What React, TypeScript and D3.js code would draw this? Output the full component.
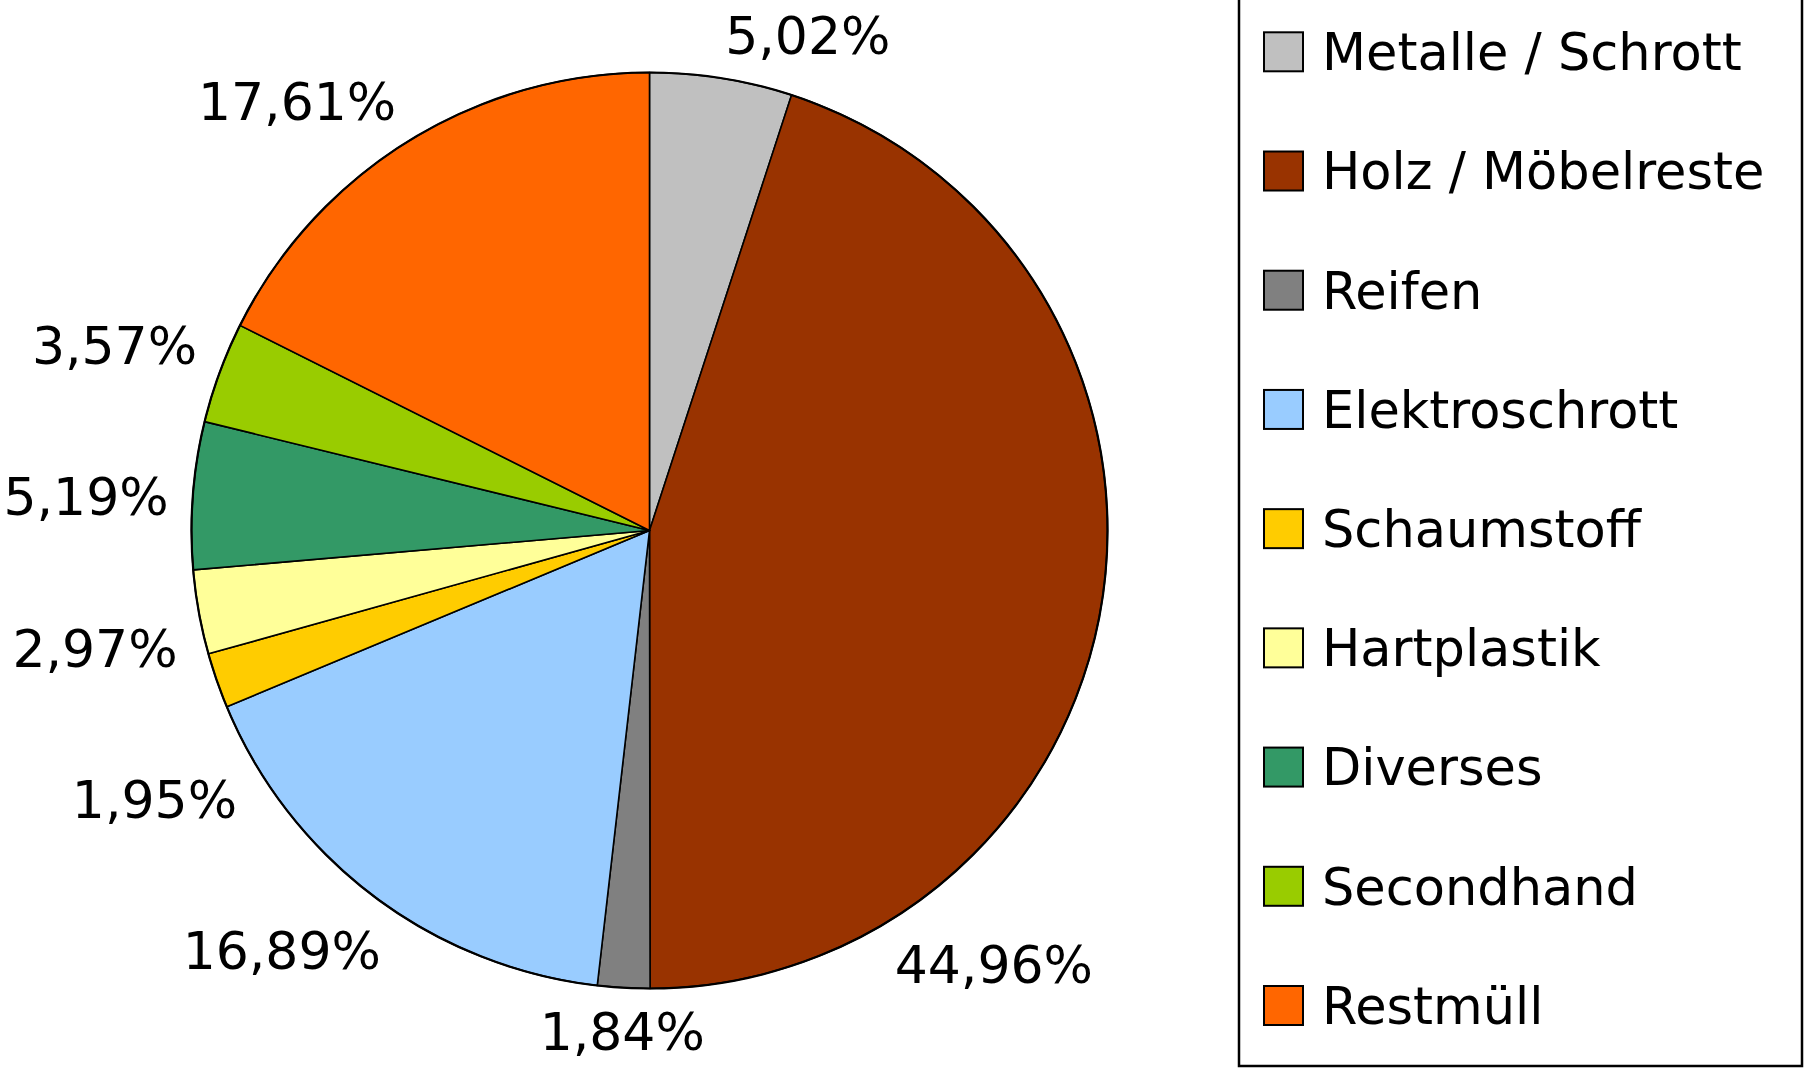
import * as d3 from "d3";
import { useEffect, useRef } from "react";

const categories = [
  "Metalle / Schrott",
  "Holz / Möbelreste",
  "Reifen",
  "Elektroschrott",
  "Schaumstoff",
  "Hartplastik",
  "Diverses",
  "Secondhand",
  "Restmüll",
];
const shares = [5.02, 44.96, 1.84, 16.89, 1.95, 2.97, 5.19, 3.57, 17.61];
const sliceColors = [
  "#C0C0C0",
  "#993300",
  "#808080",
  "#99CCFF",
  "#FFCC00",
  "#FFFF99",
  "#339966",
  "#99CC00",
  "#FF6600",
];

const W = 1806;
const H = 1086;
const FONT = "'Comic Sans MS', 'DejaVu Sans', sans-serif";

const App = () => {
  const ref = useRef(null);

  useEffect(() => {
    document.body.style.margin = "0";
    document.body.style.overflow = "hidden";

    const cx = 649.5;
    const cy = 530.5;
    const radius = 458;
    const labelR = radius + 24;
    const labelSize = 52;
    const capH = labelSize * 0.73;
    const labelGap = labelSize * 2.9; // min baseline distance of stacked labels

    const legendX = 1239;
    const legendRight = 1802;
    const legendBottom = 1066;
    const labelLimitX = legendX - 145;

    const svg = d3.select(ref.current);
    svg.selectAll("*").remove();

    const pie = d3
      .pie()
      .sort(null)
      .value((d) => d)
      .startAngle(0)
      .endAngle(2 * Math.PI);
    const arcs = pie(shares);

    const arc = d3.arc().innerRadius(0).outerRadius(radius);

    const g = svg.append("g").attr("transform", `translate(${cx},${cy})`);

    g.selectAll("path")
      .data(arcs)
      .join("path")
      .attr("d", arc)
      .attr("fill", (d, i) => sliceColors[i])
      .attr("stroke", "#000")
      .attr("stroke-width", 1.6)
      .attr("stroke-linejoin", "round");

    // outer rim a little heavier
    g.append("circle")
      .attr("r", radius)
      .attr("fill", "none")
      .attr("stroke", "#000")
      .attr("stroke-width", 2.2);

    // percentage labels, placed outside the slice
    const fmt = (v) => v.toFixed(2).replace(".", ",") + "%";

    const labels = svg
      .append("g")
      .selectAll("text")
      .data(arcs)
      .join("text")
      .attr("font-family", FONT)
      .attr("font-size", labelSize)
      .attr("fill", "#000")
      .text((d) => fmt(d.data));

    const place = (theta, w) => {
      const s = Math.sin(theta);
      const c = Math.cos(theta);
      const px = cx + labelR * s;
      const py = cy - labelR * c;
      const ax = s > 0.1 ? 0 : s < -0.1 ? 1 : 0.5;
      const ay = c > 0.1 ? 1 : c < -0.1 ? 0 : 0.5;
      return { x: px - ax * w, y: py - ay * capH };
    };

    const boxes = [];
    labels.each(function (d) {
      const w = this.getComputedTextLength();
      let theta = (d.startAngle + d.endAngle) / 2;
      let p = place(theta, w);
      // slide along the slice when the label would run into the legend
      while (p.x + w > labelLimitX && theta < d.endAngle) {
        theta += 0.005;
        p = place(theta, w);
      }
      boxes.push({ node: this, w, theta, ...p });
    });

    // left side: stack labels top to bottom, pushing crowded ones down the rim
    const left = boxes
      .filter((b) => Math.sin(b.theta) < -0.1)
      .sort((a, b) => a.y - b.y);
    for (let i = 1; i < left.length; i++) {
      const prev = left[i - 1];
      const b = left[i];
      while (b.y < prev.y + labelGap && b.theta > Math.PI) {
        b.theta -= 0.002;
        Object.assign(b, place(b.theta, b.w));
      }
    }

    boxes.forEach((b) => {
      d3.select(b.node)
        .attr("x", b.x)
        .attr("y", b.y + capH);
    });

    // legend
    const legend = svg.append("g");
    legend
      .append("rect")
      .attr("x", legendX)
      .attr("y", -4)
      .attr("width", legendRight - legendX)
      .attr("height", legendBottom + 4)
      .attr("fill", "#fff")
      .attr("stroke", "#000")
      .attr("stroke-width", 2.5);

    const rowY = d3
      .scalePoint()
      .domain(categories)
      .range([51.8, 1005.5]);

    const legendSize = 51;
    const sw = 39;

    const rows = legend
      .selectAll("g.row")
      .data(categories)
      .join("g")
      .attr("class", "row")
      .attr("transform", (d) => `translate(0,${rowY(d)})`);

    rows
      .append("rect")
      .attr("x", 1264)
      .attr("y", -sw / 2)
      .attr("width", sw)
      .attr("height", sw)
      .attr("fill", (d, i) => sliceColors[i])
      .attr("stroke", "#000")
      .attr("stroke-width", 2);

    rows
      .append("text")
      .attr("x", 1322)
      .attr("y", legendSize * 0.36)
      .attr("font-family", FONT)
      .attr("font-size", legendSize)
      .attr("fill", "#000")
      .text((d) => d);
  }, []);

  return (
    <svg
      ref={ref}
      width={W}
      height={H}
      style={{ position: "absolute", left: 0, top: 0, background: "#fff" }}
    />
  );
};

export default App;
